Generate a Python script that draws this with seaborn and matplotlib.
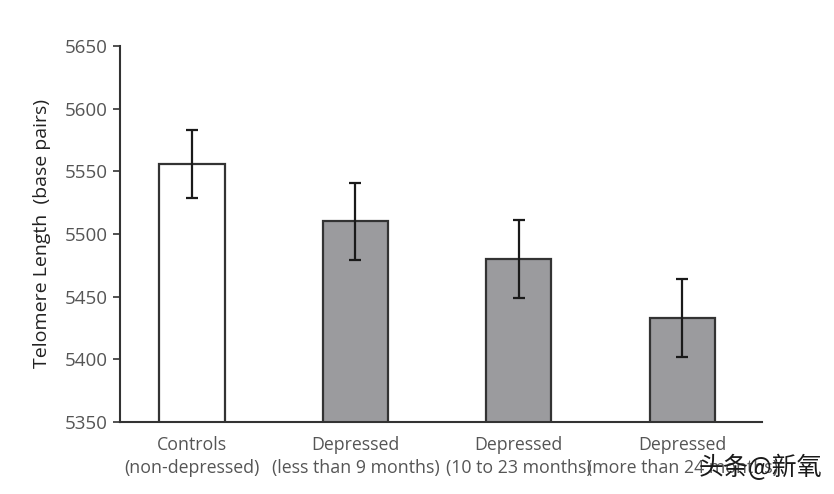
import numpy as np
import pandas as pd
import matplotlib
matplotlib.use('Agg')
import matplotlib.pyplot as plt
import seaborn as sns

# values
groups = ['Controls\n(non-depressed)', 'Depressed\n(less than 9 months)',
          'Depressed\n(10 to 23 months)', 'Depressed\n(more than 24 months)']
means = [5556, 5510, 5480, 5433]
errs = [27, 31, 31, 31]
fills = ['#ffffff', '#9a9a9e', '#9a9a9e', '#9a9a9e']
yticks = [5350, 5400, 5450, 5500, 5550, 5600, 5650]

INK = '#333333'
TXT = '#555555'

sns.set_style('white')
plt.rcParams['font.family'] = ['Open Sans', 'DejaVu Sans']

df = pd.DataFrame({'group': groups, 'mean': means})

fig = plt.figure(figsize=(8.34, 4.94), dpi=100)
ax = fig.add_axes([0.144, 0.146, 0.770, 0.761])

sns.barplot(data=df, x='group', y='mean', hue='group', palette=fills,
            width=0.40, edgecolor=INK, linewidth=1.6, legend=False, ax=ax)
ax.errorbar(np.arange(len(means)), means, yerr=errs, fmt='none',
            ecolor='#1a1a1a', elinewidth=1.6, capsize=4.5, capthick=1.6)

ax.set_ylim(5350, 5650)
ax.set_xlim(-0.44, 3.49)
ax.set_yticks(yticks)
ax.set_xlabel('')
ax.set_ylabel('Telomere Length  (base pairs)', fontsize=14, color='#222222', labelpad=10)

sns.despine(ax=ax)
for sp in ['left', 'bottom']:
    ax.spines[sp].set_color(INK)
    ax.spines[sp].set_linewidth(1.5)
ax.tick_params(axis='y', left=True, direction='out', length=5, width=1.2,
               color=INK, labelsize=13.5, labelcolor=TXT, pad=4)
ax.tick_params(axis='x', bottom=False, labelsize=12.8, labelcolor=TXT, pad=7)
for lab in ax.get_xticklabels():
    lab.set_linespacing(1.35)

# watermark from the source image
fig.text(0.838, 0.052, '头条@新氧', fontsize=18, color='#1a1a1a',
         family=['Noto Sans CJK SC', 'DejaVu Sans'], ha='left', va='center')

fig.savefig('out.png', dpi=100, facecolor='white')
